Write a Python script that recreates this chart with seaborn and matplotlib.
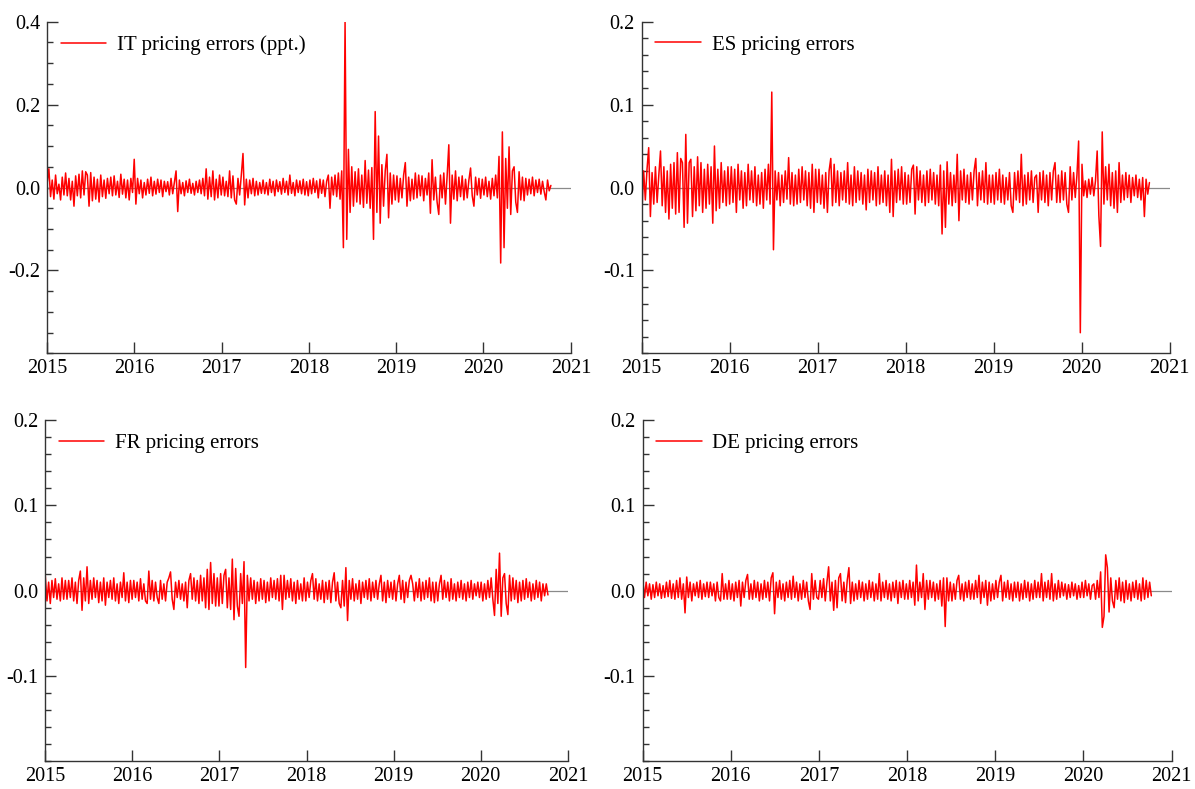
import matplotlib
matplotlib.use("Agg")
import matplotlib.pyplot as plt
import matplotlib.dates as mdates
from matplotlib.ticker import FixedLocator, MultipleLocator, FormatStrFormatter
import pandas as pd
import seaborn as sns

# weekly readings (Fridays from 2015-01-02), in thousandths of a ppt; one row per quarter
it_errors = [
    12, 45, -22, 18, -28, 30, -15, 8, -30, 25, -18, 35, -20,
    22, -30, 15, -45, 28, -20, 32, -25, 40, -18, 38, 30, -45,
    36, -32, 25, -28, 20, -35, 30, -22, 18, -26, 22, -15, 25,
    -20, 28, -18, 15, -24, 32, -16, 20, -25, 18, -30, 22, -12,
    68, -40, 22, -15, 18, -25, 12, -18, 20, -14, 25, -20, 15,
    -16, 20, -12, 18, -22, 15, -10, 14, -18, 22, -15, 12, 40,
    -58, 18, -15, 12, -20, 16, -12, 20, -14, 10, -18, 15, -12,
    18, -15, 22, -20, 45, -28, 25, -22, 40, -30, 20, -25, 30,
    -18, 25, -20, 15, -22, 40, -25, 28, -30, -40, 22, -18, 30,
    82, -42, 20, -25, 18, -15, 22, -20, 15, -18, 12, -14, 18,
    -15, 12, -18, 20, -12, 15, -20, 18, -10, 14, -16, 22, -12,
    15, -18, 30, -14, 12, -20, 18, -12, 16, -15, 20, -18, 14,
    -20, 18, -15, 22, -12, 16, -25, 20, -14, 18, -22, 15, 30,
    -50, 25, -18, 30, -22, 35, -28, 40, -145, 400, -125, 92, -60,
    50, -45, 38, -35, 45, -40, 30, -48, 65, -38, 42, -50, 48,
    -125, 183, -60, 124, -86, 55, -45, 40, 80, -73, 35, -40, 30,
    -30, 28, -35, 22, -25, 30, 60, -45, 25, -32, 20, -28, 35,
    -25, 30, -20, 28, -32, 22, -18, 35, -62, 67, -30, 25, -35,
    -65, 30, -25, 35, -40, 28, 103, -86, 30, -28, 40, -32, 25,
    -22, 28, -30, 20, -25, 18, 47, -20, -45, 25, -18, 22, -26,
    20, -18, 25, -22, 15, -28, 22, -20, 30, -25, 75, -182, 134,
    -145, 70, -50, 98, -65, 40, 50, -35, -60, 38, -30, 25, -32,
    22, -18, 20, -15, 25, -20, 18, -12, 20, -16, 15, -10, -30,
    18, -8, 5,
]

es_errors = [
    -28, 20, -15, 22, 48, -35, 18, -20, 25, -18, 15, 44, -22,
    25, -30, 20, -38, 28, -25, 30, -32, 42, -30, 35, 30, -48,
    64, -43, 30, 34, -35, 25, -28, 37, -22, 30, -30, 22, -25,
    28, -20, 25, -43, 50, -28, 22, -25, 30, -18, 20, -22, 25,
    -20, 25, -18, 22, -30, 28, -15, 20, -25, 18, -22, 28, -15,
    20, -18, 25, -22, 15, -20, 18, -25, 22, -15, 28, -20, 115,
    -75, 20, -15, 18, -22, 15, -18, 20, -14, 36, -20, 18, -22,
    15, -20, 22, -18, 25, -15, 20, -22, 18, -25, 28, -30, 22,
    -18, 22, -20, 15, -25, 18, -30, 20, 35, -22, 28, -18, 20,
    -22, 18, -15, 20, -18, 30, -20, 15, -22, 25, -18, 20, -15,
    18, -20, 15, -27, 22, -18, 20, -15, 18, -22, 25, -20, 15,
    -18, 20, -22, 15, -30, 34, -35, 20, -18, 22, -15, 25, -20,
    18, -20, 15, -18, 22, 27, -32, 25, -15, 20, -18, 15, -22,
    20, -18, 22, -15, 18, -20, 15, -22, 27, -56, 20, -48, 31,
    -20, 18, -22, 15, -18, 40, -40, 20, -15, 22, -18, 15, -20,
    18, -15, 20, 35, -22, 18, -15, 20, -18, 30, -20, 15, -18,
    15, -20, 18, -15, 22, -18, 15, -20, 12, -15, 18, -22, -30,
    18, -15, 20, -18, 40, -22, 15, -20, 18, -15, 20, -18, 12,
    15, -30, 18, -15, 20, -18, 15, -22, 18, -15, 20, 30, -18,
    15, -18, 20, -15, 18, -20, -30, 25, -15, 18, -12, 15, 56,
    -175, 28, -10, 8, -12, 10, -8, 12, -10, 8, 44, -34, -71,
    67, -20, 25, -15, 28, -22, 18, -25, 20, -30, 30, -18, 15,
    -15, 18, -12, 15, -18, 12, -10, 15, -12, 10, -15, 12, -35,
    10, -8, 6,
]

fr_errors = [
    17, -12, 10, -15, 12, -8, 14, -10, 8, -12, 15, -10, 12,
    -10, 12, -8, 15, -12, 10, -15, 12, 23, -23, 15, -12, 28,
    -15, 12, -10, 15, -8, 12, -14, 10, -12, 15, -17, 10, -8,
    12, -10, 15, -12, 8, -15, 10, -8, 21, -12, 10, -14, 12,
    -10, 12, -8, 10, -12, 14, -10, 8, -12, -15, 23, -10, 12,
    -12, 10, -8, -15, 12, -10, 8, -12, 10, 15, 22, -10, -22,
    10, -8, 12, -10, 8, -12, 10, -20, 12, 20, -10, 15, -12,
    12, -15, 18, -12, 15, -20, 25, -22, 33, -15, 20, -18, 15,
    -18, 20, -15, 18, 25, -20, 15, -22, 37, -34, 26, -18, -30,
    20, -15, 34, -90, 18, -12, 15, -10, 12, -15, 10, -12, 14,
    -10, 12, -14, 10, -12, 15, -8, 12, -10, 14, -12, 18, -22,
    18, -10, 12, -8, 14, -12, 10, -15, 12, -10, 8, -12, 15,
    -12, 10, -8, 12, 20, -10, 14, -12, 8, -10, 12, -14, 10,
    -10, 12, -14, 10, 21, -12, 10, -15, -20, 12, -18, 27, -35,
    12, -10, 14, -12, 8, -10, 12, -15, 10, -8, 12, -10, 14,
    -12, 10, -8, 12, -10, 8, 18, -12, 10, -14, 12, -8, 10,
    -10, 12, -12, 8, 18, -10, 12, -14, 10, -8, 12, 18, 8,
    -12, 10, -8, 14, -12, 10, -10, 12, -8, 15, -12, 10, -14,
    10, -12, 8, 18, -10, 12, -8, 10, -12, 14, -10, 8, -12,
    10, -8, 12, -10, 8, -12, 10, -8, 12, -10, 8, -6, 10,
    -8, 10, -12, 8, -10, 12, -8, 15, -10, -29, 25, -15, 44,
    -30, 15, 20, -15, -28, 18, -12, 15, -10, 12, -14, 10, -12,
    12, -10, 14, -8, 10, -12, 8, -10, 12, -8, 10, -12, 8,
    -6, 8, -5,
]

de_errors = [
    12, -8, 10, -6, 8, -10, 7, -8, 10, -6, 8, -9, 6,
    -8, 10, -7, 12, -9, 8, -10, 12, -8, 15, -10, 8, -26,
    16, -8, 10, -12, 8, -6, 10, -8, 12, -10, 8, -7, 10,
    -8, 10, -6, 8, -12, 10, -8, -12, 20, -10, 8, -10, 12,
    -10, 8, -12, 10, -8, 12, -18, 10, -8, 12, 19, -10, 8,
    -10, 12, -8, 10, -12, 8, -10, 12, -8, 10, -12, 15, 21,
    -27, 10, -8, 12, -10, 8, -12, 10, -8, 12, -10, 17, -8,
    10, -12, 8, -10, 12, -8, 10, -12, -22, 20, -10, 12, -8,
    -10, 12, -8, 14, -12, 10, 28, -12, 10, -23, 12, -20, 15,
    20, -12, 10, -14, 12, 27, -15, 10, -12, 8, -10, 12, -8,
    10, -12, 8, -10, 12, -8, 10, -12, 8, -10, 20, -12, 10,
    -8, 12, -10, 8, -12, 10, -8, 12, -15, 10, -8, 12, -10,
    8, -10, 12, -8, 10, -17, 30, -12, 10, -8, 20, -22, 12,
    -10, 12, -8, 10, -12, 8, -10, 12, -18, 15, -42, 15, -12,
    10, -12, 8, -10, 12, 18, -10, 8, -12, 10, -8, 12, -10,
    8, -10, 12, -8, 18, -15, 10, -8, 12, -17, 10, -12, 8,
    -10, 12, -8, 10, 18, -12, 10, -8, 12, -10, 8, -12, 10,
    -8, 10, -12, 8, -10, 12, -8, 10, -12, 8, -10, 12, -8,
    10, -8, 20, -12, 10, -8, 12, -10, 20, -12, 8, -10, 12,
    -8, 10, -6, 8, -10, 7, -8, 10, -6, 8, -10, 6, -8,
    10, -8, 12, -6, 8, -10, 6, 8, -10, 12, -8, 22, -43,
    -30, 42, 27, -25, 15, -12, -20, 12, -10, 15, -12, 10, -14,
    12, -10, 8, -12, 10, -8, 12, -10, 8, -12, 15, -10, 12,
    -8, 10, -6,
]

labels = ["IT pricing errors (ppt.)", "ES pricing errors", "FR pricing errors", "DE pricing errors"]

sns.set_style("ticks")
plt.rcParams["font.family"] = ["Liberation Serif", "DejaVu Serif"]
plt.rcParams["axes.unicode_minus"] = False

fig = plt.figure(figsize=(11.95, 7.89), dpi=100)

panels = [
    (it_errors, labels[0], [0.0393, 0.5520, 0.4385, 0.4207], 0.4, [-0.2, 0.0, 0.2, 0.4], 0.05),
    (es_errors, labels[1], [0.5370, 0.5520, 0.4418, 0.4207], 0.2, [-0.1, 0.0, 0.1, 0.2], 0.02),
    (fr_errors, labels[2], [0.0377, 0.0350, 0.4376, 0.4327], 0.2, [-0.1, 0.0, 0.1, 0.2], 0.02),
    (de_errors, labels[3], [0.5377, 0.0350, 0.4427, 0.4327], 0.2, [-0.1, 0.0, 0.1, 0.2], 0.02),
]

for values, label, rect, lim, majors, minor in panels:
    ax = fig.add_axes(rect)
    df = pd.DataFrame({
        "date": pd.date_range("2015-01-02", periods=len(values), freq="7D"),
        "value": [v / 1000 for v in values],
    })
    ax.axhline(0, color="#8a8a8a", lw=0.9, zorder=1)
    sns.lineplot(data=df, x="date", y="value", color="red", lw=1.1, label=label, ax=ax, zorder=2)

    ax.set_xlim(pd.Timestamp("2015-01-01"), pd.Timestamp("2021-01-01"))
    ax.set_ylim(-lim, lim)
    ax.xaxis.set_major_locator(mdates.YearLocator())
    ax.xaxis.set_major_formatter(mdates.DateFormatter("%Y"))
    ax.yaxis.set_major_locator(FixedLocator(majors))
    ax.yaxis.set_minor_locator(MultipleLocator(minor))
    ax.yaxis.set_major_formatter(FormatStrFormatter("%.1f"))
    ax.set_xlabel("")
    ax.set_ylabel("")

    ax.tick_params(axis="both", which="major", direction="in", length=8, width=1,
                   labelsize=14.5, color="#333333", labelcolor="black")
    ax.tick_params(axis="y", which="minor", direction="in", length=4, width=1, color="#333333")
    ax.tick_params(axis="x", which="major", pad=4)
    ax.tick_params(axis="y", which="major", pad=5)
    sns.despine(ax=ax)
    for side in ["left", "bottom"]:
        ax.spines[side].set_color("#333333")
        ax.spines[side].set_linewidth(1.0)

    ax.legend(loc="upper left", frameon=False, fontsize=15, handlelength=2.2,
              handletextpad=0.5, borderaxespad=0.25, labelcolor="black")

fig.savefig("out.png", dpi=100)
